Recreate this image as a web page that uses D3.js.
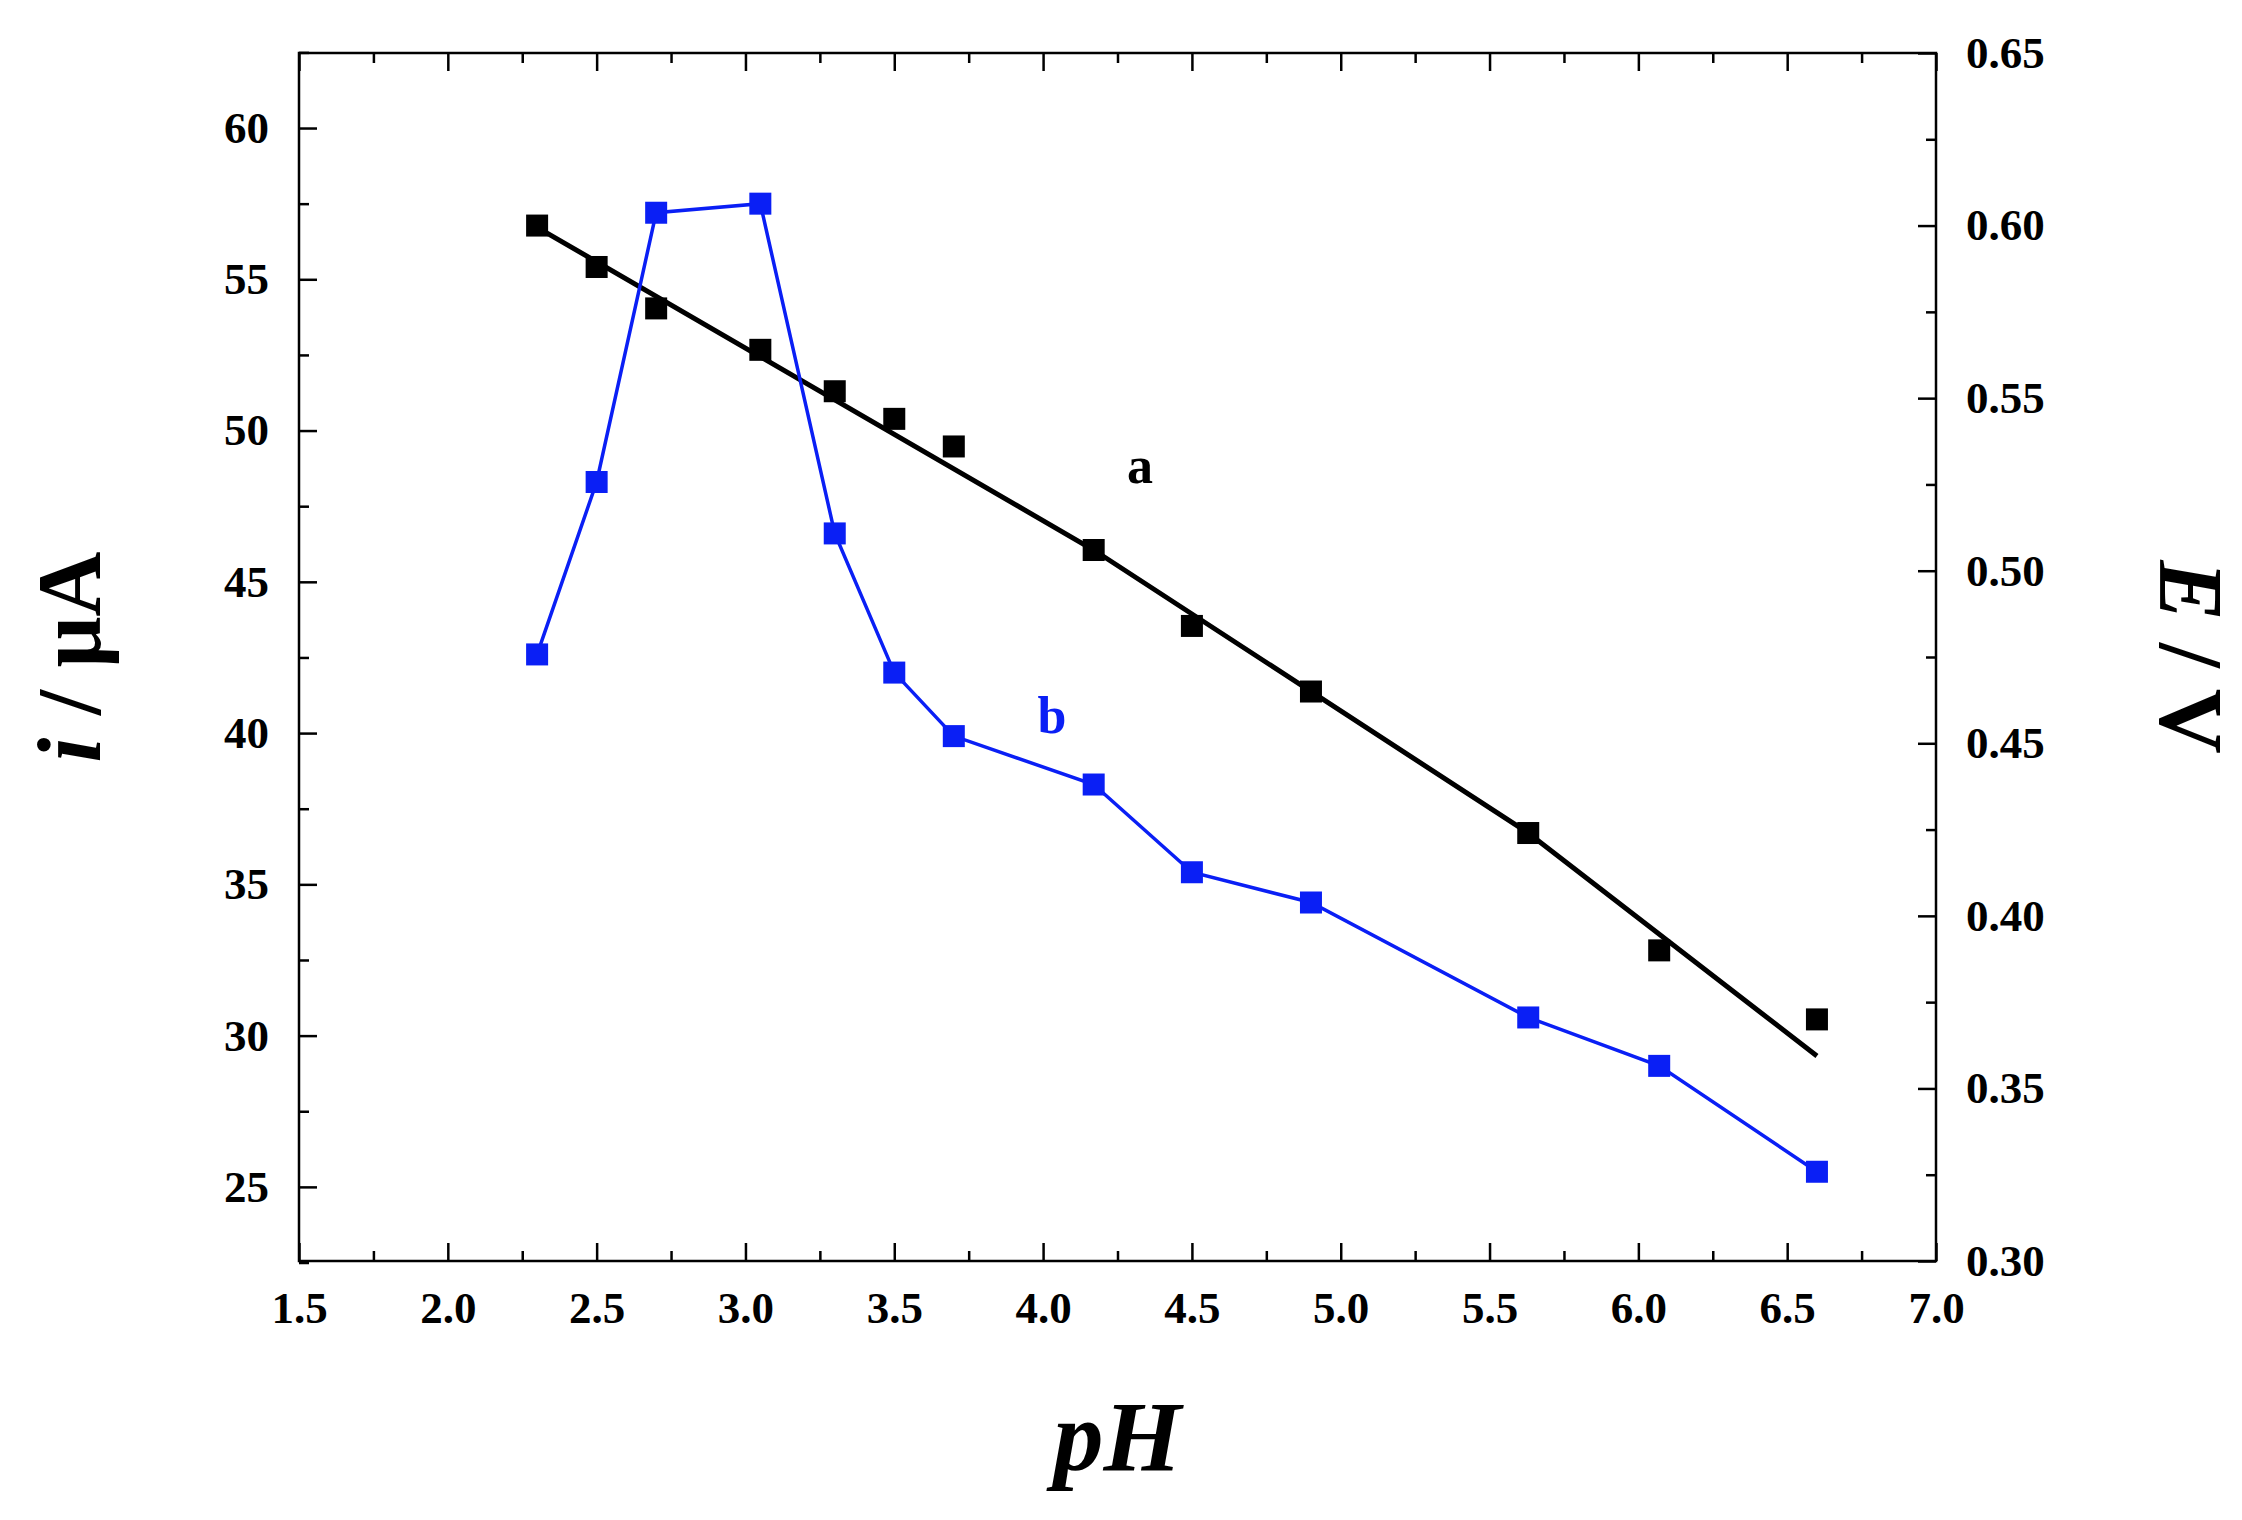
<!DOCTYPE html>
<html><head><meta charset="utf-8">
<script src="https://cdn.jsdelivr.net/npm/d3@7"></script>
<style>body{margin:0;background:#fff}</style>
</head><body>
<svg id="chart" width="2242" height="1520"></svg>
<script>
// pH values shared by both series
const ph = [2.3, 2.5, 2.7, 3.05, 3.3, 3.5, 3.7, 4.17, 4.5, 4.9, 5.63, 6.07, 6.6];
// series a: potential E / V (right axis)
const potential = [0.600, 0.588, 0.576, 0.564, 0.552, 0.544, 0.536, 0.506, 0.484, 0.465, 0.424, 0.390, 0.370];
// fitted line of series a, as drawn
const fitPh = [2.3, 4.17, 5.63, 6.6];
const fitE = [0.5995, 0.506, 0.424, 0.3594];
// series b: current i / uA (left axis)
const current = [42.6, 48.3, 57.2, 57.5, 46.6, 42.0, 39.9, 38.3, 35.4, 34.4, 30.6, 29.0, 25.5];
const xTicks = [1.5, 2.0, 2.5, 3.0, 3.5, 4.0, 4.5, 5.0, 5.5, 6.0, 6.5, 7.0];
const leftTicks = [25, 30, 35, 40, 45, 50, 55, 60];
const rightTicks = [0.30, 0.35, 0.40, 0.45, 0.50, 0.55, 0.60, 0.65];

const L = 299, R = 1936, T = 53, B = 1261;
const svg = d3.select("#chart");
const font = "Liberation Serif, Times New Roman, serif";

const x = d3.scaleLinear().domain([1.5, 7.0]).range([L, R]);
const yL = d3.scaleLinear().domain([22.55, 62.48]).range([B, T]);
const yR = d3.scaleLinear().domain([0.30, 0.65]).range([B, T]);

function styleAxis(g, labels) {
  g.select(".domain").remove();
  g.selectAll("line").attr("stroke", "#000").attr("stroke-width", 2.5);
  g.selectAll("text").attr("font-family", font).attr("font-weight", "bold")
    .attr("font-size", 45).attr("fill", "#000");
  if (!labels) g.selectAll("text").remove();
}
function minor(vals, ax) {
  return ax.tickValues(vals).tickFormat("").tickSize(-10);
}
// bottom
svg.append("g").attr("transform", `translate(0,${B})`)
  .call(d3.axisBottom(x).tickValues(xTicks).tickFormat(d3.format(".1f")).tickSize(-18).tickPadding(30))
  .call(g => styleAxis(g, true));
svg.append("g").attr("transform", `translate(0,${B})`)
  .call(minor(d3.range(1.75, 7, 0.5), d3.axisBottom(x))).call(g => styleAxis(g, false));
// top
svg.append("g").attr("transform", `translate(0,${T})`)
  .call(d3.axisTop(x).tickValues(xTicks).tickSize(-18)).call(g => styleAxis(g, false));
svg.append("g").attr("transform", `translate(0,${T})`)
  .call(minor(d3.range(1.75, 7, 0.5), d3.axisTop(x))).call(g => styleAxis(g, false));
// left
svg.append("g").attr("transform", `translate(${L},0)`)
  .call(d3.axisLeft(yL).tickValues(leftTicks).tickFormat(d3.format("d")).tickSize(-18).tickPadding(30))
  .call(g => styleAxis(g, true));
svg.append("g").attr("transform", `translate(${L},0)`)
  .call(minor(d3.range(22.5, 62.6, 5), d3.axisLeft(yL))).call(g => styleAxis(g, false));
// right
svg.append("g").attr("transform", `translate(${R},0)`)
  .call(d3.axisRight(yR).tickValues(rightTicks).tickFormat(d3.format(".2f")).tickSize(-18).tickPadding(30))
  .call(g => styleAxis(g, true));
svg.append("g").attr("transform", `translate(${R},0)`)
  .call(minor(d3.range(0.325, 0.65, 0.05), d3.axisRight(yR))).call(g => styleAxis(g, false));

svg.append("rect").attr("x", L).attr("y", T).attr("width", R - L).attr("height", B - T)
  .attr("fill", "none").attr("stroke", "#000").attr("stroke-width", 2.5);

// fit line a
svg.append("path").datum(d3.zip(fitPh, fitE))
  .attr("d", d3.line().x(d => x(d[0])).y(d => yR(d[1])))
  .attr("stroke", "#000").attr("stroke-width", 5).attr("fill", "none");
svg.selectAll(".pa").data(d3.zip(ph, potential)).join("rect")
  .attr("x", d => x(d[0]) - 11).attr("y", d => yR(d[1]) - 11)
  .attr("width", 22).attr("height", 22).attr("fill", "#000");

// series b
const blue = "#0a1ff5";
svg.append("path").datum(d3.zip(ph, current))
  .attr("d", d3.line().x(d => x(d[0])).y(d => yL(d[1])))
  .attr("stroke", blue).attr("stroke-width", 3.5).attr("fill", "none");
svg.selectAll(".pb").data(d3.zip(ph, current)).join("rect")
  .attr("x", d => x(d[0]) - 11).attr("y", d => yL(d[1]) - 11)
  .attr("width", 22).attr("height", 22).attr("fill", blue);

svg.append("text").attr("x", 1140).attr("y", 483).text("a")
  .attr("font-family", font).attr("font-weight", "bold").attr("font-size", 52).attr("text-anchor", "middle");
svg.append("text").attr("x", 1052).attr("y", 733).text("b").attr("fill", blue)
  .attr("font-family", font).attr("font-weight", "bold").attr("font-size", 52).attr("text-anchor", "middle");

// axis titles
const lt = svg.append("text").attr("transform", `translate(100,${(T + B) / 2}) rotate(-90)`)
  .attr("text-anchor", "middle").attr("font-family", font).attr("font-weight", "bold").attr("font-size", 90);
lt.append("tspan").attr("font-style", "italic").text("i");
lt.append("tspan").text(" / μA");
const rt = svg.append("text").attr("transform", `translate(2160,${(T + B) / 2}) rotate(90)`)
  .attr("text-anchor", "middle").attr("font-family", font).attr("font-weight", "bold").attr("font-size", 90);
rt.append("tspan").attr("font-style", "italic").text("E");
rt.append("tspan").text(" / V");
svg.append("text").attr("x", (L + R) / 2).attr("y", 1470).attr("text-anchor", "middle")
  .attr("font-family", font).attr("font-weight", "bold").attr("font-style", "italic")
  .attr("font-size", 100).text("pH");
</script>
</body></html>
